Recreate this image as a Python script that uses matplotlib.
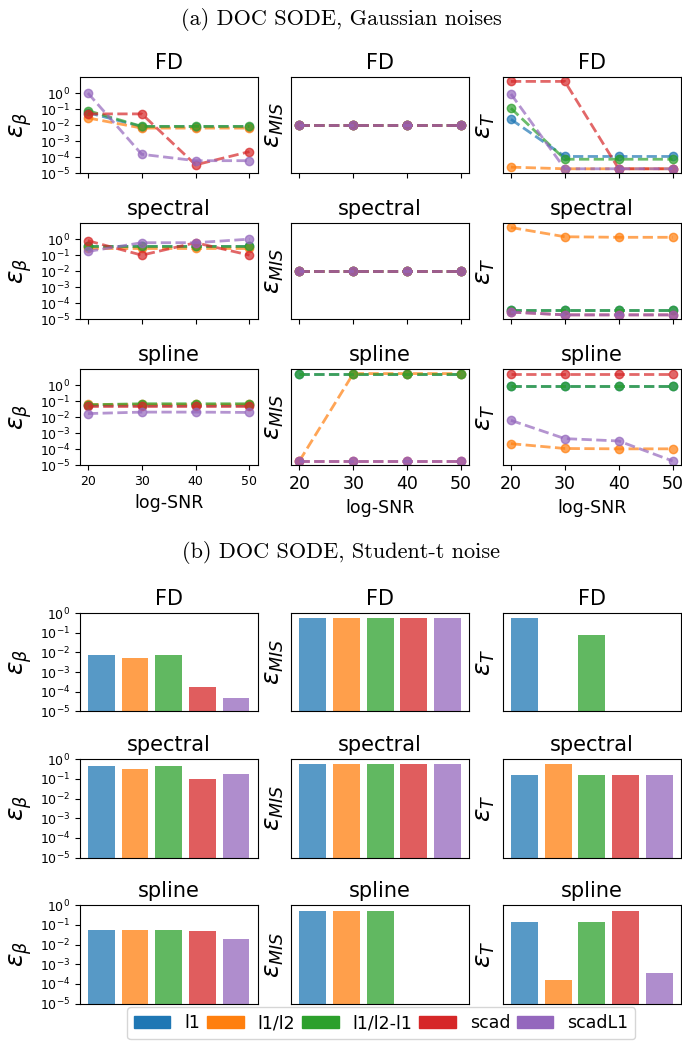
import numpy as np
import matplotlib
matplotlib.use('Agg')
import matplotlib.pyplot as plt
from matplotlib.patches import Patch

# x axis of the gaussian runs
snr = [20, 30, 40, 50]
methods = ['l1', 'l1/l2', 'l1/l2-l1', 'scad', 'scadL1']
colors = ['tab:blue', 'tab:orange', 'tab:green', 'tab:red', 'tab:purple']
row_names = ['FD', 'spectral', 'spline']

# (a) gaussian noises, one row per method, one column per log-SNR
gauss_fd_beta = [
    [0.06, 0.008, 0.008, 0.008],
    [0.028, 0.0065, 0.0065, 0.0065],
    [0.08, 0.0083, 0.0083, 0.0083],
    [0.05, 0.05, 3.3e-5, 2.2e-4],
    [1.0, 1.5e-4, 6e-5, 6e-5],
]
gauss_fd_mis = [
    [0.05, 0.05, 0.05, 0.05],
    [0.05, 0.05, 0.05, 0.05],
    [0.05, 0.05, 0.05, 0.05],
    [0.05, 0.05, 0.05, 0.05],
    [0.05, 0.05, 0.05, 0.05],
]
gauss_fd_t = [
    [4e-3, 1.8e-5, 1.8e-5, 1.8e-5],
    [3.8e-6, 3e-6, 3e-6, 3e-6],
    [0.02, 1.2e-5, 1.2e-5, 1.2e-5],
    [1.0, 1.0, 3e-6, 3e-6],
    [0.16, 3e-6, 3e-6, 3e-6],
]
gauss_spec_beta = [
    [0.4, 0.4, 0.4, 0.4],
    [0.3, 0.3, 0.3, 0.3],
    [0.4, 0.4, 0.4, 0.4],
    [0.8, 0.1, 0.6, 0.1],
    [0.17, 0.6, 0.6, 1.0],
]
gauss_spec_mis = [
    [0.05, 0.05, 0.05, 0.05],
    [0.05, 0.05, 0.05, 0.05],
    [0.05, 0.05, 0.05, 0.05],
    [0.05, 0.05, 0.05, 0.05],
    [0.05, 0.05, 0.05, 0.05],
]
gauss_spec_t = [
    [6.2e-6, 6.2e-6, 6.2e-6, 6.2e-6],
    [1.0, 0.26, 0.24, 0.24],
    [6.2e-6, 6.2e-6, 6.2e-6, 6.2e-6],
    [4.5e-6, 3e-6, 3e-6, 3e-6],
    [4.5e-6, 3e-6, 3e-6, 3e-6],
]
gauss_spl_beta = [
    [0.06, 0.06, 0.06, 0.06],
    [0.065, 0.065, 0.065, 0.065],
    [0.06, 0.07, 0.07, 0.07],
    [0.05, 0.05, 0.05, 0.05],
    [0.017, 0.021, 0.021, 0.02],
]
gauss_spl_mis = [
    [0.6, 0.6, 0.6, 0.6],
    [0.0, 0.6, 0.6, 0.6],
    [0.6, 0.6, 0.6, 0.6],
    [0.0, 0.0, 0.0, 0.0],
    [0.0, 0.0, 0.0, 0.0],
]
gauss_spl_t = [
    [0.17, 0.17, 0.17, 0.17],
    [4.2e-5, 2.1e-5, 2e-5, 2e-5],
    [0.17, 0.17, 0.17, 0.17],
    [1.0, 1.0, 1.0, 1.0],
    [1.2e-3, 8.7e-5, 6.2e-5, 3.5e-6],
]

# (b) student-t noise, one value per method
st_fd_beta = [0.0076, 0.0053, 0.0076, 1.7e-4, 4.7e-5]
st_fd_mis = [0.55, 0.55, 0.55, 0.55, 0.55]
st_fd_t = [0.55, 0, 0.08, 0, 0]
st_spec_beta = [0.43, 0.3, 0.43, 0.093, 0.17]
st_spec_mis = [0.55, 0.55, 0.55, 0.55, 0.55]
st_spec_t = [0.15, 0.55, 0.15, 0.15, 0.15]
st_spl_beta = [0.057, 0.057, 0.057, 0.05, 0.02]
st_spl_mis = [0.53, 0.53, 0.53, 0, 0]
st_spl_t = [0.145, 1.6e-4, 0.145, 0.53, 3.5e-4]

gauss = [
    [gauss_fd_beta, gauss_fd_mis, gauss_fd_t],
    [gauss_spec_beta, gauss_spec_mis, gauss_spec_t],
    [gauss_spl_beta, gauss_spl_mis, gauss_spl_t],
]
student = [
    [st_fd_beta, st_fd_mis, st_fd_t],
    [st_spec_beta, st_spec_mis, st_spec_t],
    [st_spl_beta, st_spl_mis, st_spl_t],
]
ylabels = [r'$\varepsilon_\beta$', r'$\varepsilon_{MIS}$', r'$\varepsilon_T$']
decades = [1e-5, 1e-4, 1e-3, 1e-2, 1e-1, 1e0]

fig = plt.figure(figsize=(6.82, 10.41), dpi=100)

gs_a = fig.add_gridspec(3, 3, left=0.117, right=0.998, top=0.926, bottom=0.553,
                        wspace=0.19, hspace=0.52)
gs_b = fig.add_gridspec(3, 3, left=0.117, right=0.998, top=0.411, bottom=0.036,
                        wspace=0.19, hspace=0.485)

fig.text(0.5, 0.981, '(a) DOC SODE, Gaussian noises', family='cmr10',
         fontsize=16, ha='center', va='center')
fig.text(0.5, 0.469, '(b) DOC SODE, Student-t noise', family='cmr10',
         fontsize=16, ha='center', va='center')

# top half: dashed lines over log-SNR
for r in range(3):
    for c in range(3):
        ax = fig.add_subplot(gs_a[r, c])
        for k in range(len(methods)):
            ax.plot(snr, gauss[r][c][k], '--o', color=colors[k], alpha=0.7,
                    lw=2, ms=6)
        ax.set_title(row_names[r], fontsize=15)
        ax.set_ylabel(ylabels[c], fontsize=18)
        ax.set_xticks(snr)
        if c == 0:
            ax.set_yscale('log')
            ax.set_ylim(1e-5, 10)
            ax.set_yticks(decades)
            ax.minorticks_off()
            ax.tick_params(axis='y', labelsize=9)
            ax.tick_params(axis='x', labelsize=9)
        else:
            if c == 2:
                ax.set_yscale('log')
            ax.set_yticks([])
            ax.minorticks_off()
            ax.tick_params(axis='x', labelsize=12.5)
        if r == 2:
            ax.set_xlabel('log-SNR', fontsize=12.5)
        else:
            ax.tick_params(axis='x', labelbottom=False)

# bottom half: bars per method
xpos = np.arange(len(methods))
for r in range(3):
    for c in range(3):
        ax = fig.add_subplot(gs_b[r, c])
        vals = np.array(student[r][c], dtype=float)
        vals = np.where(vals > 0, vals, np.nan)
        ax.bar(xpos, vals, color=colors, alpha=0.75)
        ax.set_yscale('log')
        ax.set_ylim(1e-5, 1)
        ax.set_xlim(-0.64, 4.64)
        ax.set_title(row_names[r], fontsize=15)
        ax.set_ylabel(ylabels[c], fontsize=18)
        ax.set_xticks([])
        ax.minorticks_off()
        if c == 0:
            ax.set_yticks(decades)
            ax.tick_params(axis='y', labelsize=9)
        else:
            ax.set_yticks([])

handles = [Patch(color=col) for col in colors]
fig.legend(handles, methods, loc='lower center', bbox_to_anchor=(0.559, 0.0),
           ncol=5, fontsize=12.5, borderaxespad=0.1, handlelength=2.1,
           columnspacing=0.4)

fig.savefig('out.png', dpi=100)
